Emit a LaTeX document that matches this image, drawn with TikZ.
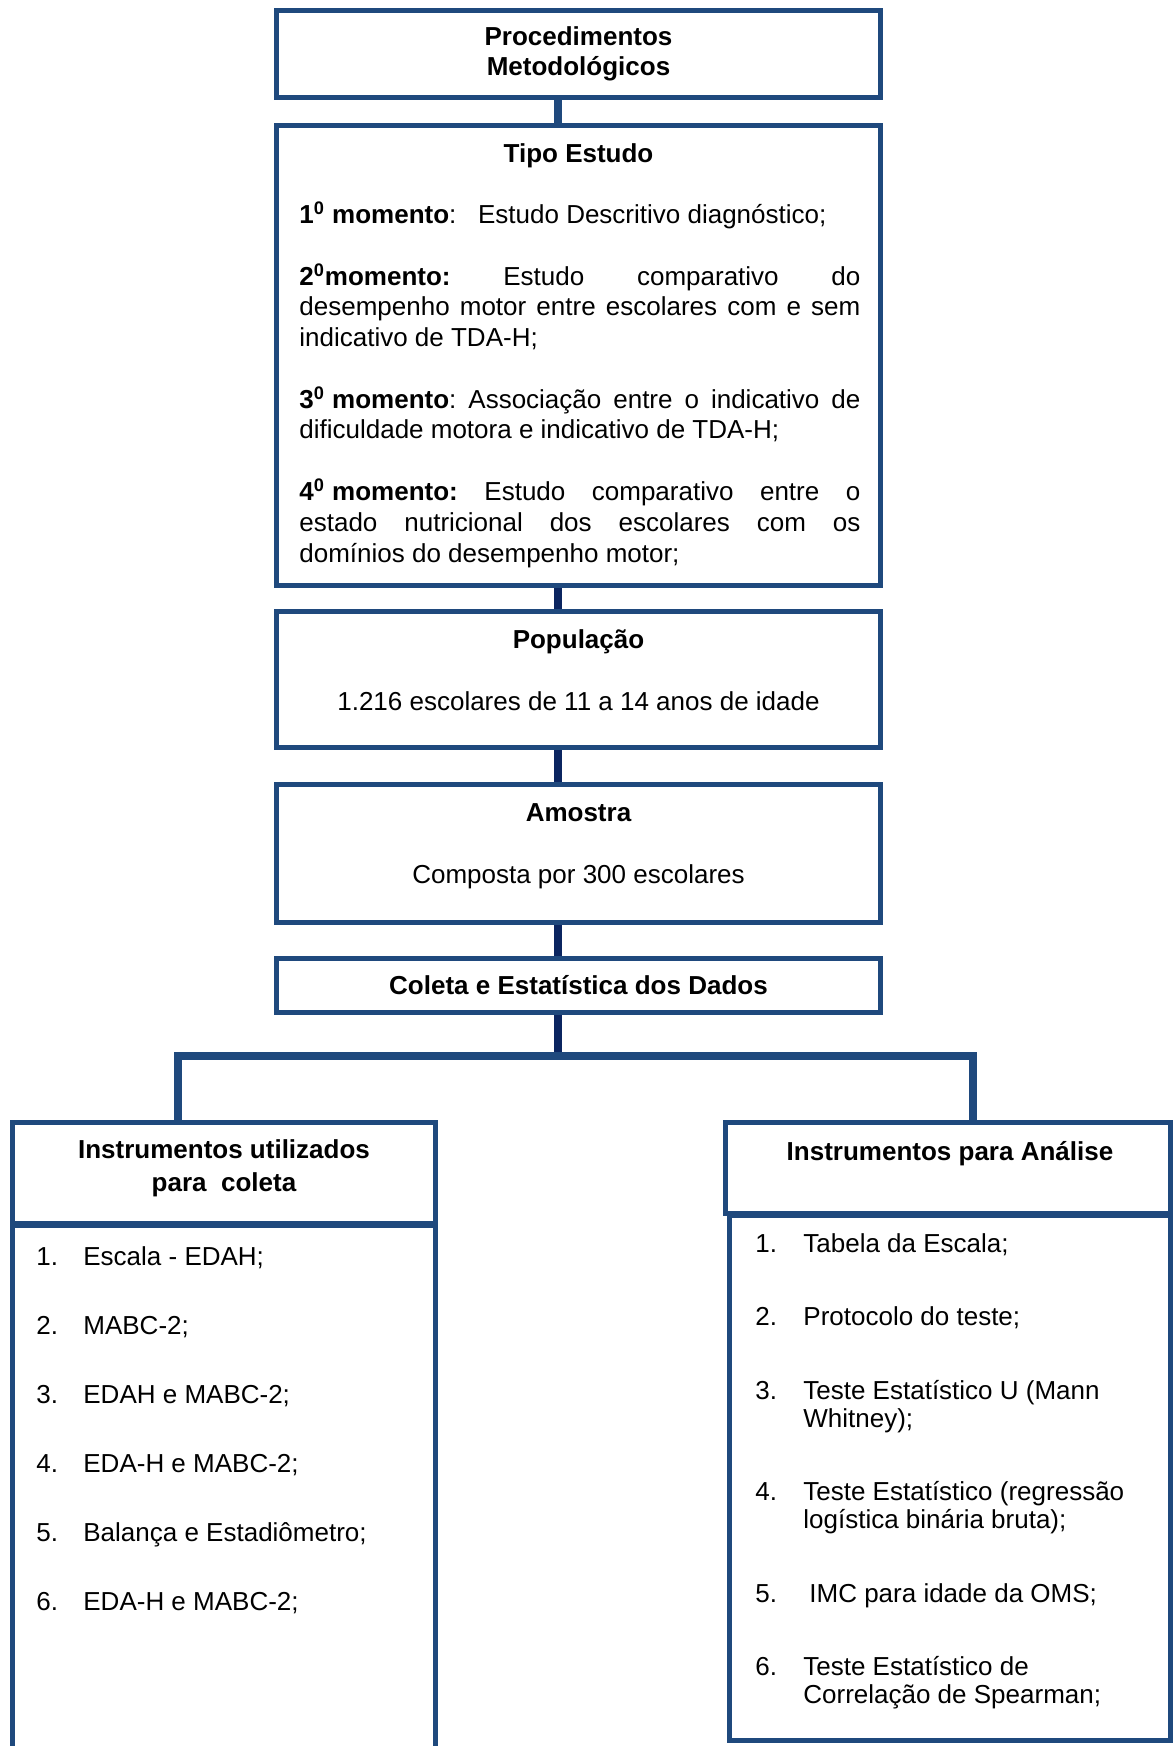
\documentclass[tikz,border=0pt]{standalone}
\usepackage{fontspec}
\setmainfont{Liberation Sans}
\usetikzlibrary{positioning,backgrounds}
\definecolor{boxblue}{HTML}{1F497D}
\definecolor{linknavy}{HTML}{0B2560}
\newcommand{\bodyfont}{\fontsize{13}{15.2}\selectfont}
% justified line of the middle column: words are spread with \hfill
\newcommand{\jline}[1]{\makebox[280.5pt]{#1}}
\tikzset{
  box/.style={draw=boxblue, fill=white, line width=2.7pt, inner sep=0pt, outer sep=0pt},
  midbox/.style={box, minimum width=301.8pt},
  link/.style={draw=linknavy, line width=4pt},
  txt/.style={inner sep=0pt, anchor=base west},
  ctr/.style={inner sep=0pt, anchor=base},
  hd/.style={ctr, font=\bodyfont\bfseries},
}

\begin{document}
\begin{tikzpicture}[x=0.5pt, y=-0.5pt, every node/.style={font=\bodyfont}]
\useasboundingbox (0,0) rectangle (1175,1746);
\clip (0,0) rectangle (1175,1746);

% ---------------------------------------------------------- main column
\node[midbox, minimum height=43.3pt, align=center, font=\bodyfont\bfseries]
  (proc) at (578.5,54) {Procedimentos\\Metodológicos};
\node[midbox, minimum height=229.8pt] (tipo) at (578.5,355.5) {};
\node[midbox, minimum height=67.8pt] (pop) at (578.5,679.5) {};
\node[midbox, minimum height=68.8pt] (amostra) at (578.5,853.5) {};
\node[midbox, minimum height=26.8pt, font=\bodyfont\bfseries]
  (coleta) at (578.5,985.5) {Coleta e Estatística dos Dados};

% Tipo Estudo
\node[hd] (tipot) at (578.5,162) {Tipo Estudo};
\node[txt] (m1) at (299,223.5)
  {\textbf{1\textsuperscript{0} momento}:\ \ \ Estudo Descritivo diagnóstico;};
\node[txt] (m2a) at (299,285)
  {\jline{\textbf{2\textsuperscript{0}momento:}\hfill Estudo\hfill comparativo\hfill do}};
\node[txt] (m2b) at (299,315.8)
  {\jline{desempenho\hfill motor\hfill entre\hfill escolares\hfill com\hfill e\hfill sem}};
\node[txt] (m2c) at (299,346.5) {indicativo de TDA-H;};
\node[txt] (m3a) at (299,408)
  {\jline{\textbf{3\textsuperscript{0} momento}:\hfill Associação\hfill entre\hfill o\hfill indicativo\hfill de}};
\node[txt] (m3b) at (299,438.9) {dificuldade motora e indicativo de TDA-H;};
\node[txt] (m4a) at (299,500.5)
  {\jline{\textbf{4\textsuperscript{0}\ momento:}\hfill Estudo\hfill comparativo\hfill entre\hfill o}};
\node[txt] (m4b) at (299,531.2)
  {\jline{estado\hfill nutricional\hfill dos\hfill escolares\hfill com\hfill os}};
\node[txt] (m4c) at (299,562) {domínios do desempenho motor;};

% População / Amostra
\node[hd] (popt) at (578.5,648) {População};
\node[ctr] (popx) at (578.5,710) {1.216 escolares de 11 a 14 anos de idade};
\node[hd] (amot) at (578.5,821) {Amostra};
\node[ctr] (amox) at (578.5,883) {Composta por 300 escolares};

% ---------------------------------------------------------- left branch
\node[box, minimum width=211.3pt, minimum height=50.3pt] (lhead) at (224,1173) {};
\node[box, minimum width=211.3pt, minimum height=263.25pt] (llist) at (224,1488.75) {};
\node[hd] (lhead1) at (224,1158) {Instrumentos utilizados};
\node[hd] (lhead2) at (224,1191) {para\ \ coleta};

\foreach \n/\y/\t in {1/1265/{Escala - EDAH;}, 2/1334/{MABC-2;},
    3/1403/{EDAH e MABC-2;}, 4/1472/{EDA-H e MABC-2;},
    5/1541/{Balança e Estadiômetro;}, 6/1610/{EDA-H e MABC-2;}} {
  \node[txt] (lnum\n) at (36,\y) {\n.};
  \node[txt] (litem\n) at (83,\y) {\t};
}

% ---------------------------------------------------------- right branch
\node[box, minimum width=222.3pt, minimum height=45.3pt] (rhead) at (948,1168) {};
\node[box, minimum width=220.3pt, minimum height=262.4pt] (rlist) at (950,1477.9) {};
\node[hd] (rhead1) at (950,1160) {Instrumentos para Análise};

\foreach \n/\y/\x/\t in {1/1252/803/{Tabela da Escala;}, 2/1325/803/{Protocolo do teste;},
    3/1399/803/{Teste Estatístico U (Mann}, 4/1500/803/{Teste Estatístico (regressão},
    5/1602/809/{IMC para idade da OMS;}, 6/1675/803/{Teste Estatístico de}} {
  \node[txt] (rnum\n) at (755,\y) {\n.};
  \node[txt] (ritem\n) at (\x,\y) {\t};
}
\foreach \n/\y/\t in {3/1427/{Whitney);}, 4/1528/{logística binária bruta);},
    6/1703/{Correlação de Spearman;}} {
  \node[txt] (rcont\n) at (803,\y) {\t};
}

% ---------------------------------------------------------- connectors
\begin{scope}[on background layer]
  \coordinate (spine) at (558,0);
  \coordinate (barL) at (177.5,1056);
  \coordinate (barR) at (973,1056);
  \draw[link, draw=boxblue] (proc.south -| spine) -- (tipo.north -| spine);
  \draw[link] (tipo.south -| spine) -- (pop.north -| spine);
  \draw[link] (pop.south -| spine) -- (amostra.north -| spine);
  \draw[link] (amostra.south -| spine) -- (coleta.north -| spine);
  \draw[link] (coleta.south -| spine) -- (barL -| spine);
  \draw[link, draw=boxblue] (lhead.north -| barL) -- (barL) -- (barR)
    -- (rhead.north -| barR);
\end{scope}

\end{tikzpicture}
\end{document}
